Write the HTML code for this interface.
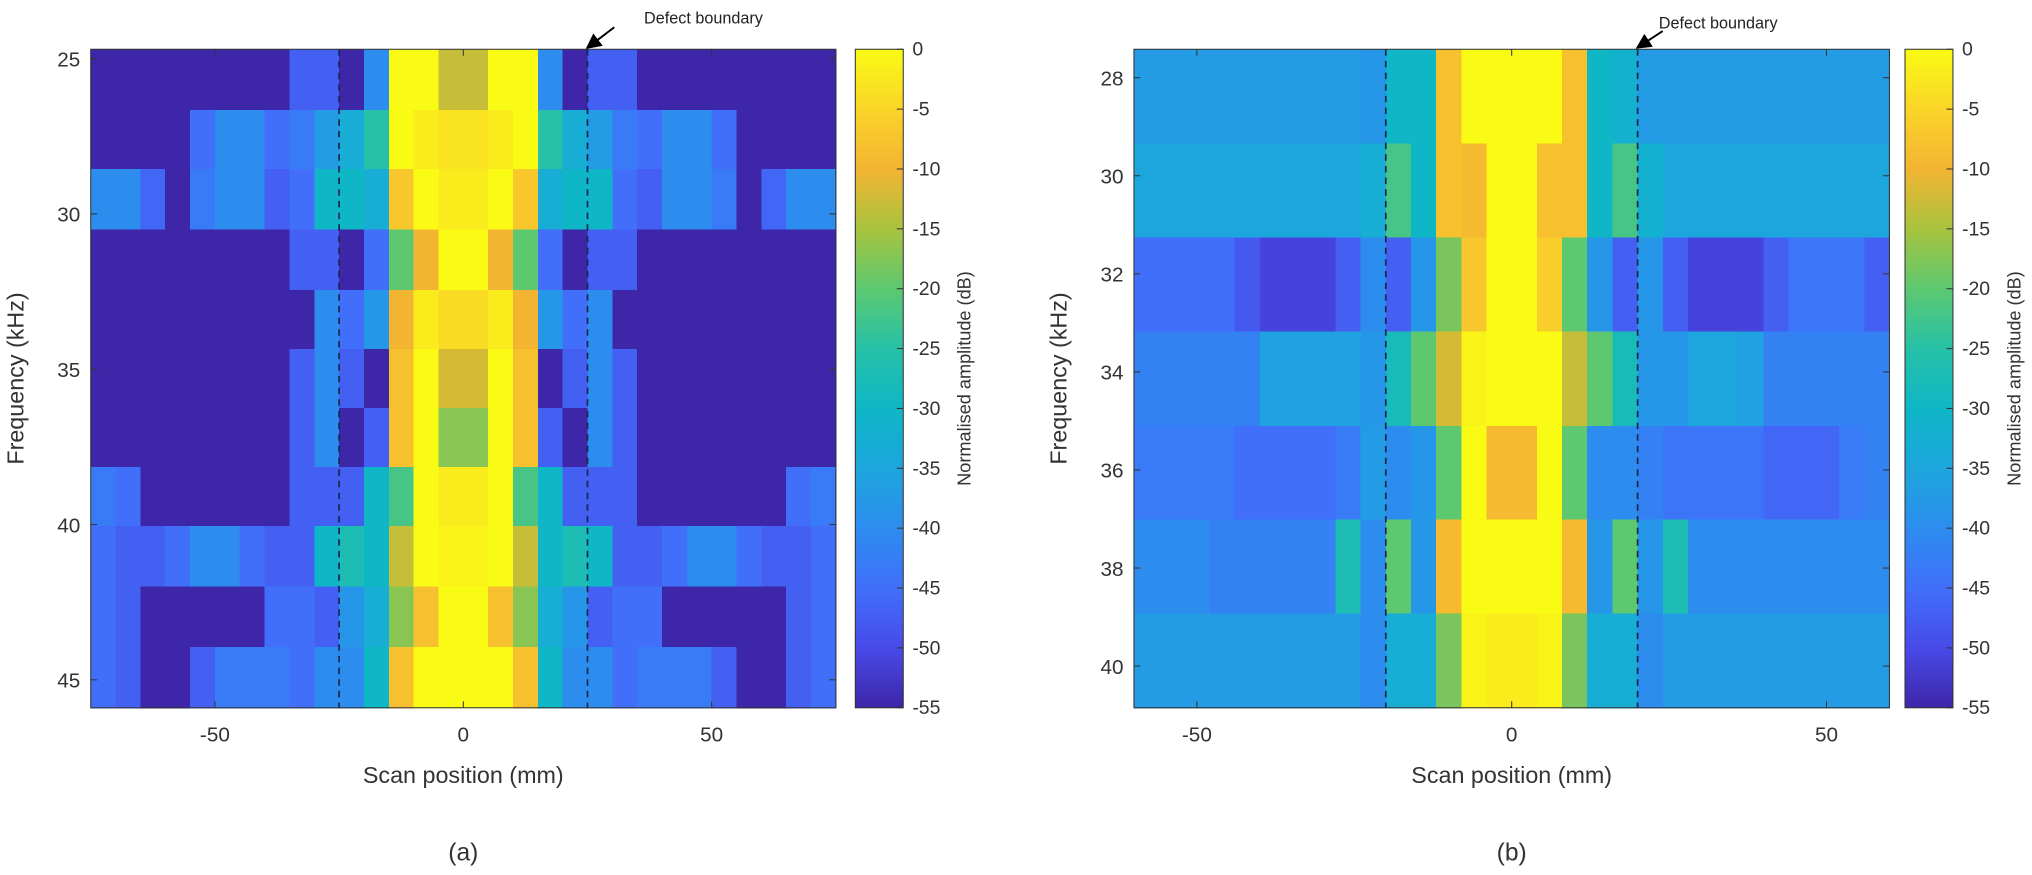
<!DOCTYPE html>
<html><head><meta charset="utf-8"><style>
html,body{margin:0;padding:0;background:#fff;}
svg{display:block;font-family:"Liberation Sans",Arial,sans-serif;}
</style></head><body>
<svg id="fig" width="2032" height="875" viewBox="0 0 1568 675" preserveAspectRatio="none" xmlns="http://www.w3.org/2000/svg">
<defs>
<linearGradient id="cbgrad" x1="0" y1="1" x2="0" y2="0"></linearGradient>
<marker id="arrowhead" markerWidth="8" markerHeight="8" refX="6" refY="4" orient="auto"><path d="M0,0 L8,4 L0,8 z" fill="#000"/></marker>
</defs>
<g id="chartA"></g>
<g id="chartB"></g>
</svg>
<script>
// ---------- data: panel (a) ----------
const scanA = [-72.5,-67.5,-62.5,-57.5,-52.5,-47.5,-42.5,-37.5,-32.5,-27.5,-22.5,-17.5,-12.5,-7.5,-2.5,2.5,7.5,12.5,17.5,22.5,27.5,32.5,37.5,42.5,47.5,52.5,57.5,62.5,67.5,72.5];
const freqA = [25.7,27.6,29.5,31.5,33.4,35.3,37.2,39.1,41.0,43.0,44.9];
const ampA = [
[-55,-55,-55,-55,-55,-55,-55,-55,-47,-47,-55,-40,0,0,-13,-13,0,0,-40,-55,-47,-47,-55,-55,-55,-55,-55,-55,-55,-55],
[-55,-55,-55,-55,-45,-40,-40,-45,-43,-37,-33,-25,0,-2,-3,-3,-2,0,-25,-33,-37,-43,-45,-40,-40,-45,-55,-55,-55,-55],
[-40,-40,-46,-55,-43,-40,-40,-47,-45,-30,-30,-33,-7,0,-2,-2,0,-7,-33,-30,-30,-45,-47,-40,-40,-43,-55,-46,-40,-40],
[-55,-55,-55,-55,-55,-55,-55,-55,-47,-47,-55,-45,-20,-10,0,0,-10,-20,-45,-55,-47,-47,-55,-55,-55,-55,-55,-55,-55,-55],
[-55,-55,-55,-55,-55,-55,-55,-55,-55,-40,-45,-38,-10,-2,-4,-4,-2,-10,-38,-45,-40,-55,-55,-55,-55,-55,-55,-55,-55,-55],
[-55,-55,-55,-55,-55,-55,-55,-55,-47,-40,-47,-55,-8,0,-12,-12,0,-8,-55,-47,-40,-47,-55,-55,-55,-55,-55,-55,-55,-55],
[-55,-55,-55,-55,-55,-55,-55,-55,-47,-40,-55,-47,-8,0,-17,-17,0,-8,-47,-55,-40,-47,-55,-55,-55,-55,-55,-55,-55,-55],
[-43,-45,-55,-55,-55,-55,-55,-55,-47,-47,-47,-30,-22,0,-2,-2,0,-22,-30,-47,-47,-47,-55,-55,-55,-55,-55,-55,-45,-43],
[-45,-47,-47,-45,-40,-40,-45,-47,-47,-30,-27,-30,-13,0,-1,-1,0,-13,-30,-27,-30,-47,-47,-45,-40,-40,-45,-47,-47,-45],
[-45,-47,-55,-55,-55,-55,-55,-45,-45,-47,-38,-33,-17,-8,0,0,-8,-17,-33,-38,-47,-45,-45,-55,-55,-55,-55,-55,-47,-45],
[-45,-47,-55,-55,-47,-43,-43,-43,-45,-40,-40,-30,-8,0,0,0,0,-8,-30,-40,-40,-45,-43,-43,-43,-47,-55,-55,-47,-45]
];
const xTicksA = [-50,0,50];
const yTicksA = [25,30,35,40,45];
const boundaryA = [-25,25];
// ---------- data: panel (b) ----------
const scanB = [-58,-54,-50,-46,-42,-38,-34,-30,-26,-22,-18,-14,-10,-6,-2,2,6,10,14,18,22,26,30,34,38,42,46,50,54,58];
const freqB = [28.38,30.30,32.22,34.14,36.06,37.97,39.89];
const ampB = [
[-37,-37,-37,-37,-37,-37,-37,-37,-37,-38,-30,-30,-8,0,0,0,0,-8,-30,-32,-37,-37,-37,-37,-37,-37,-37,-37,-37,-37],
[-35,-35,-35,-35,-35,-35,-35,-35,-35,-33,-22,-30,-8,-9,0,0,-8,-8,-30,-22,-32,-35,-35,-35,-35,-35,-35,-35,-35,-35],
[-45,-45,-45,-45,-48,-51,-51,-51,-47,-40,-47,-38,-18,-7,0,0,-6,-20,-38,-47,-38,-47,-51,-51,-51,-47,-44,-44,-44,-47],
[-42,-42,-42,-42,-42,-36,-36,-36,-36,-38,-28,-20,-12,-1,0,0,0,-13,-20,-28,-38,-38,-35,-35,-36,-42,-42,-42,-42,-42],
[-43,-43,-43,-43,-45,-45,-45,-45,-43,-37,-40,-38,-20,0,-9,-9,0,-20,-40,-40,-42,-44,-44,-44,-44,-46,-46,-46,-43,-42],
[-40,-40,-40,-42,-42,-42,-42,-42,-27,-40,-20,-38,-9,0,0,0,0,-9,-38,-20,-38,-27,-40,-40,-40,-40,-40,-40,-40,-40],
[-37,-37,-37,-37,-37,-37,-37,-37,-37,-40,-33,-33,-18,-1,-2,-2,-1,-18,-33,-33,-40,-37,-37,-37,-37,-37,-37,-37,-37,-37]
];
const xTicksB = [-50,0,50];
const yTicksB = [28,30,32,34,36,38,40];
const boundaryB = [-20,20];
const cbTicks = [0,-5,-10,-15,-20,-25,-30,-35,-40,-45,-50,-55];

const NS = "http://www.w3.org/2000/svg";
const stops = [[0,62,38,168],[0.09,72,74,232],[0.18,65,110,250],[0.27,45,140,240],[0.36,30,165,222],[0.45,14,182,200],[0.55,40,194,165],[0.64,95,200,110],[0.73,170,195,60],[0.82,245,180,50],[0.91,250,212,40],[1,249,251,20]];
function cmap(v){
  let t=(v+55)/55; t=Math.max(0,Math.min(1,t));
  for(let i=1;i<stops.length;i++){
    if(t<=stops[i][0]){
      const a=stops[i-1],b=stops[i],f=(t-a[0])/(b[0]-a[0]);
      return `rgb(${Math.round(a[1]+(b[1]-a[1])*f)},${Math.round(a[2]+(b[2]-a[2])*f)},${Math.round(a[3]+(b[3]-a[3])*f)})`;
    }
  }
  return "rgb(249,251,20)";
}
function mk(tag,attrs,parent){const e=document.createElementNS(NS,tag);for(const k in attrs)e.setAttribute(k,attrs[k]);parent.appendChild(e);return e;}
function edges(c,lo,hi){const e=[lo];for(let i=1;i<c.length;i++)e.push((c[i-1]+c[i])/2);e.push(hi);return e;}

const grad=document.getElementById('cbgrad');
for(let i=0;i<=22;i++){const s=document.createElementNS(NS,'stop');s.setAttribute('offset',(i/22));s.setAttribute('stop-color',cmap(-55+55*i/22));grad.appendChild(s);}

function drawPanel(g,cfg){
  const {L,R,T,B,xMin,xMax,yMin,yMax,xs,ys,vals,xTicks,yTicks,bounds,cbX,label,arrow} = cfg;
  const sx=v=>L+(v-xMin)/(xMax-xMin)*(R-L);
  const sy=v=>T+(v-yMin)/(yMax-yMin)*(B-T);
  const xe=edges(xs,xMin,xMax), ye=edges(ys,yMin,yMax);
  const cells=mk('g',{'shape-rendering':'crispEdges'},g);
  
  
  for(let r=0;r<ys.length;r++){
    for(let c=0;c<xs.length;c++){
      const x0=sx(xe[c]),x1=sx(xe[c+1]),y0=sy(ye[r]),y1=sy(ye[r+1]);
      const rc=mk('rect',{x:x0,y:y0,width:x1-x0+0.6,height:y1-y0+0.6,fill:cmap(vals[r][c])},cells);
      
      
    }
  }
  for(const b of bounds){
    const ln=mk('line',{x1:sx(b),x2:sx(b),y1:T,y2:B,stroke:'#15264f','stroke-width':1.3,'stroke-dasharray':'5,4'},g);
    
    
  }
  const fr=mk('rect',{x:L,y:T,width:R-L,height:B-T,fill:'none',stroke:'#333','stroke-width':0.8},g);
  
  
  for(const t of xTicks){
    mk('line',{x1:sx(t),x2:sx(t),y1:B,y2:B-5,stroke:'#333','stroke-width':0.8},g);
    mk('line',{x1:sx(t),x2:sx(t),y1:T,y2:T+5,stroke:'#333','stroke-width':0.8},g);
    const tx=mk('text',{x:sx(t),y:B+26,'text-anchor':'middle','font-size':16,fill:'#333'},g);
    tx.textContent=t;
    
    
  }
  for(const t of yTicks){
    mk('line',{x1:L,x2:L+5,y1:sy(t),y2:sy(t),stroke:'#333','stroke-width':0.8},g);
    mk('line',{x1:R,x2:R-5,y1:sy(t),y2:sy(t),stroke:'#333','stroke-width':0.8},g);
    const ty=mk('text',{x:L-8,y:sy(t)+6,'text-anchor':'end','font-size':16,fill:'#333'},g);
    ty.textContent=t;
    
    
  }
  const xt=mk('text',{x:(L+R)/2,y:B+58,'text-anchor':'middle','font-size':18,fill:'#333'},g);
  xt.textContent='Scan position (mm)';
  
  
  const yx=L-52, yy=(T+B)/2;
  const yt=mk('text',{x:yx,y:yy,'text-anchor':'middle','font-size':18,fill:'#333',transform:`rotate(-90 ${yx} ${yy})`},g);
  yt.textContent='Frequency (kHz)';
  
  
  const cbW=37;
  const cb=mk('rect',{x:cbX,y:T,width:cbW,height:B-T,fill:'url(#cbgrad)',stroke:'#333','stroke-width':0.8},g);
  
  
  const cy=v=>T+(0-v)/55*(B-T);
  for(const t of cbTicks){
    mk('line',{x1:cbX+cbW-5,x2:cbX+cbW,y1:cy(t),y2:cy(t),stroke:'#333','stroke-width':0.8},g);
    const ct=mk('text',{x:cbX+cbW+7,y:cy(t)+5,'font-size':15,fill:'#333'},g);
    ct.textContent=t;
    
    
  }
  const ctx=cbX+cbW+52, cty=(T+B)/2;
  const cbt=mk('text',{x:ctx,y:cty,'text-anchor':'middle','font-size':14,fill:'#333',transform:`rotate(-90 ${ctx} ${cty})`},g);
  cbt.textContent='Normalised amplitude (dB)';
  
  
  const at=mk('text',{x:arrow.tx,y:arrow.ty,'font-size':12.5,fill:'#222'},g);
  at.textContent='Defect boundary';
  
  
  const ar=mk('line',{x1:arrow.x1,y1:arrow.y1,x2:sx(bounds[1])+1,y2:T-2,stroke:'#000','stroke-width':1.5,'marker-end':'url(#arrowhead)'},g);
  
  
  const pl=mk('text',{x:(L+R)/2,y:B+118,'text-anchor':'middle','font-size':19,fill:'#333'},g);
  pl.textContent=label;
  
  
}

drawPanel(document.getElementById('chartA'),{L:70,R:645,T:38,B:546,xMin:-75,xMax:75,yMin:24.7,yMax:45.9,xs:scanA,ys:freqA,vals:ampA,xTicks:xTicksA,yTicks:yTicksA,bounds:boundaryA,cbX:660,label:'(a)',arrow:{tx:497,ty:18,x1:474,y1:21}});
drawPanel(document.getElementById('chartB'),{L:875,R:1458,T:38,B:546,xMin:-60,xMax:60,yMin:27.42,yMax:40.85,xs:scanB,ys:freqB,vals:ampB,xTicks:xTicksB,yTicks:yTicksB,bounds:boundaryB,cbX:1470,label:'(b)',arrow:{tx:1280,ty:22,x1:1283,y1:24}});
</script>
</body></html>
